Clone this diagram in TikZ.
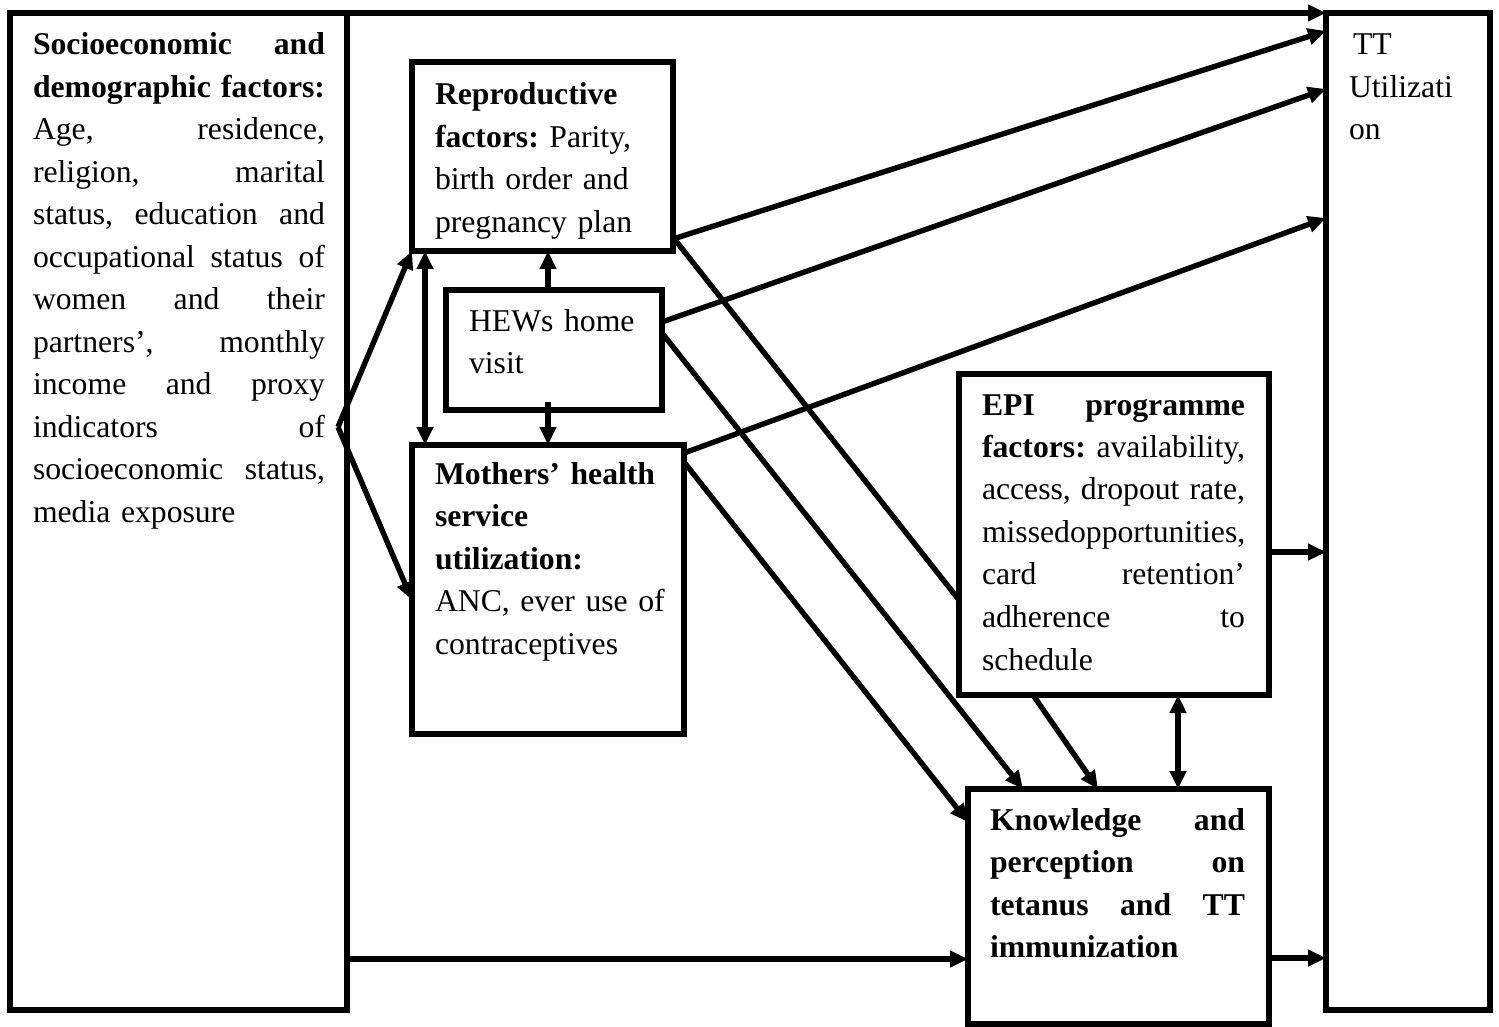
\documentclass[tikz,border=0pt]{standalone}
\usepackage{fontspec}
\setmainfont{Liberation Serif}
\usetikzlibrary{arrows.meta,calc}
\frenchspacing
\newlength\jw
\newcommand\jline[1]{\leavevmode\hbox to \jw{#1}}
\begin{document}
\begin{tikzpicture}[x=0.5pt,y=-0.5pt,
  box/.style={draw,line width=2.7pt,rectangle,inner sep=0pt,outer sep=0pt},
  con/.style={line width=2.7pt},
  arr/.style={con,-{Triangle[length=9pt,width=8pt]}},
  darr/.style={con,{Triangle[length=9pt,width=8pt]}-{Triangle[length=9pt,width=8pt]}},
  txt/.style={inner sep=0pt,outer sep=0pt,anchor=base west,align=left,
    font=\fontsize{15.85pt}{21.25pt}\selectfont\frenchspacing}]
\useasboundingbox (0,0) rectangle (1499,1027);
% boxes
\node[box,minimum width=168.5pt,minimum height=498.5pt] (soc) at (178.5,511.5) {};
\node[box,minimum width=82pt,minimum height=498.5pt] (tt) at (1408,511.5) {};
\node[box,minimum width=130.5pt,minimum height=94.5pt] (rep) at (542.5,156.5) {};
\node[box,minimum width=108pt,minimum height=60pt] (hew) at (554,350) {};
\node[box,minimum width=136pt,minimum height=144.5pt] (mot) at (548,589.5) {};
\node[box,minimum width=155pt,minimum height=160.5pt] (epi) at (1114,534.5) {};
\node[box,minimum width=150.5pt,minimum height=117.5pt] (kno) at (1118.5,906.5) {};
% texts
\node[txt,text width=146pt] (soct) at (33,55) {\setlength\jw{146pt}%
\jline{\textbf{Socioeconomic\hfill and}}\\
\jline{\textbf{demographic\hfill factors:}}\\
\jline{Age,\hfill residence,}\\
\jline{religion,\hfill marital}\\
\jline{status,\hfill education\hfill and}\\
\jline{occupational\hfill status\hfill of}\\
\jline{women\hfill and\hfill their}\\
\jline{partners’,\hfill monthly}\\
\jline{income\hfill and\hfill proxy}\\
\jline{indicators\hfill of}\\
\jline{socioeconomic\hfill status,}\\
media exposure};
\node[txt,text width=110pt] (ttt) at (1349,55) {\hspace{2pt}TT\\Utilizati\\on};
\node[txt,text width=115pt] (rept) at (435,105) {\textbf{Reproductive}\\\textbf{factors:} Parity,\\birth order and\\pregnancy plan};
\node[txt,text width=95pt] (hewt) at (469,331) {HEWs home\\visit};
\node[txt,text width=120pt] (mott) at (435,484) {\textbf{Mothers’ health}\\\textbf{service}\\\textbf{utilization:}\\ANC, ever use of\\contraceptives};
\node[txt,text width=131.5pt] (epit) at (982,415) {\setlength\jw{131.5pt}%
\jline{\textbf{EPI\hfill programme}}\\
\jline{\textbf{factors:}\hfill availability,}\\
\jline{access,\hfill dropout\hfill rate,}\\
\jline{missedopportunities,}\\
\jline{card\hfill retention’}\\
\jline{adherence\hfill to}\\
schedule};
\node[txt,text width=127.5pt] (knot) at (990,830) {\setlength\jw{127.5pt}\bfseries
\jline{Knowledge\hfill and}\\
\jline{perception\hfill on}\\
\jline{tetanus\hfill and\hfill TT}\\
immunization};
% connectors
\coordinate (apex) at (338,427);
\draw[arr] (soc.north east) -- (tt.north west);
\draw[arr] ($(rep.north east)+(0,177)$) -- ($(tt.north west)+(0,18)$);
\draw[arr] ($(hew.north east)+(0,32)$) -- ($(tt.north west)+(0,76)$);
\draw[arr] ($(mot.north east)+(0,8)$) -- ($(tt.north west)+(0,205)$);
\draw[con] ($(rep.north east)+(3,179)$) -- ($(epi.north west)+(0,226)$);
\draw[arr] ($(hew.north east)+(0,43)$) -- ($(kno.north west)+(55,0)$);
\draw[arr] ($(mot.north east)+(0,17)$) -- ($(kno.north west)+(0,33)$);
\draw[arr] ($(epi.south west)+(74,0)$) -- ($(kno.north west)+(130,0)$);
\draw[darr] ($(epi.south west)+(219,0)$) -- ($(kno.north west)+(210,0)$);
\draw[arr] ($(epi.north east)+(0,178)$) -- ($(tt.north west)+(0,539)$);
\draw[arr] ($(kno.north east)+(0,169)$) -- ($(tt.north west)+(0,945)$);
\draw[arr] ($(soc.north east)+(0,946)$) -- ($(kno.north west)+(0,170)$);
\draw[arr] (apex) -- (rep.south west);
\draw[arr] (apex) -- ($(mot.north west)+(0,155)$);
\draw[darr] ($(rep.south west)+(13,0)$) -- ($(mot.north west)+(13,0)$);
\draw[arr] ($(hew.north west)+(102,0)$) -- ($(rep.south west)+(136,0)$);
\draw[arr] ($(hew.south west)+(102,-8)$) -- ($(mot.north west)+(136,0)$);
\end{tikzpicture}
\end{document}
